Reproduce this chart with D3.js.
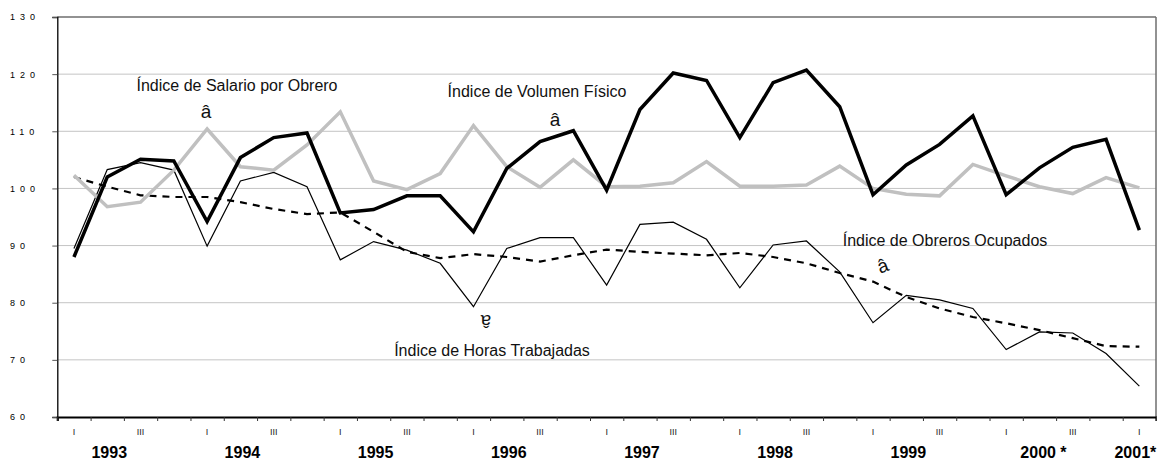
<!DOCTYPE html>
<html>
<head>
<meta charset="utf-8">
<script src="https://cdn.jsdelivr.net/npm/d3@7"></script>
<style>
  body { margin: 0; background: #fff; }
  svg text { font-family: "Liberation Sans", Arial, sans-serif; }
</style>
</head>
<body>
<div id="chart"></div>
<script>
// Quarters, 1993-I .. 2001-I
const categories = [
  "1993-I","1993-II","1993-III","1993-IV",
  "1994-I","1994-II","1994-III","1994-IV",
  "1995-I","1995-II","1995-III","1995-IV",
  "1996-I","1996-II","1996-III","1996-IV",
  "1997-I","1997-II","1997-III","1997-IV",
  "1998-I","1998-II","1998-III","1998-IV",
  "1999-I","1999-II","1999-III","1999-IV",
  "2000-I","2000-II","2000-III","2000-IV",
  "2001-I"
];
const quarterShown = ["I", "III"];
const yearLabels = ["1993","1994","1995","1996","1997","1998","1999","2000 *","2001*"];
const yTicks = [60, 70, 80, 90, 100, 110, 120, 130];

// Series values
const volumenFisico = [88.0,102.0,105.1,104.8, 94.2,105.4,108.9,109.7, 95.7,96.3,98.7,98.7,
  92.4,103.5,108.2,110.1, 99.7,113.8,120.2,118.9, 108.9,118.5,120.7,114.3,
  98.9,104.1,107.7,112.7, 98.9,103.6,107.2,108.6, 92.7];
const salarioObrero = [102.3,96.8,97.6,103.2, 110.4,103.8,103.2,107.6, 113.4,101.3,99.8,102.6,
  111.0,103.8,100.2,105.0, 100.3,100.4,101.0,104.7, 100.4,100.4,100.6,103.9,
  100.0,99.0,98.7,104.2, 102.2,100.3,99.1,101.9, 100.1];
const horasTrabajadas = [89.5,103.3,104.5,103.2, 89.9,101.3,102.8,100.3, 87.5,90.7,89.2,86.9,
  79.3,89.5,91.4,91.4, 83.1,93.7,94.1,91.1, 82.6,90.1,90.8,85.4,
  76.5,81.3,80.5,79.0, 71.8,74.9,74.7,71.1, 65.4];
const obrerosOcupados = [102.0,100.3,98.8,98.5, 98.5,97.6,96.4,95.5, 95.8,92.4,88.9,87.8,
  88.5,88.0,87.2,88.3, 89.3,88.9,88.6,88.3, 88.7,88.0,86.9,85.2,
  83.7,81.0,79.0,77.5, 76.4,75.2,73.8,72.4, 72.3];

// Dimensions
const W = 1157, H = 462;
const plotLeft = 57.3, plotRight = 1156, plotTop = 17, plotBottom = 417;

const svg = d3.select("#chart").append("svg")
    .attr("width", W)
    .attr("height", H);

const x = d3.scaleBand().domain(categories).range([plotLeft, plotRight]).padding(0);
const xb = d3.scaleLinear().domain([0, categories.length]).range([plotLeft, plotRight]);
const y = d3.scaleLinear().domain([60, 130]).range([plotBottom, plotTop]);
const cx = c => x(c) + x.bandwidth() / 2;

// Gridlines
svg.append("g")
    .selectAll("line")
    .data(yTicks.filter(d => d > 60 && d < 130))
    .enter().append("line")
    .attr("x1", plotLeft).attr("x2", plotRight)
    .attr("y1", d => y(d)).attr("y2", d => y(d))
    .attr("stroke", "#c4c4c4").attr("stroke-width", 1);

// Frame top + right
svg.append("line")
    .attr("x1", plotLeft).attr("x2", plotRight)
    .attr("y1", y(130)).attr("y2", y(130))
    .attr("stroke", "#6e6e6e").attr("stroke-width", 1.3);
svg.append("line")
    .attr("x1", plotRight).attr("x2", plotRight)
    .attr("y1", y(130)).attr("y2", y(60))
    .attr("stroke", "#6e6e6e").attr("stroke-width", 1.5);

// Y axis
const yAxis = svg.append("g")
    .attr("transform", "translate(" + plotLeft + ",0)")
    .call(d3.axisLeft(y).tickValues(yTicks).tickSize(5).tickFormat(d3.format("d")));
yAxis.select(".domain").attr("stroke", "#000").attr("stroke-width", 1.3);
yAxis.selectAll(".tick line").attr("stroke", "#555");
yAxis.selectAll(".tick text")
    .attr("x", -47.3)
    .attr("text-anchor", "start")
    .style("font-size", "9px")
    .style("letter-spacing", "5px")
    .attr("fill", "#000");

// X axis: tick marks at quarter boundaries
const xAxis = svg.append("g")
    .attr("transform", "translate(0," + plotBottom + ")")
    .call(d3.axisBottom(xb).tickValues(d3.range(categories.length + 1)).tickSize(4).tickFormat(""));
xAxis.select(".domain").attr("stroke", "#000").attr("stroke-width", 2.2);
xAxis.selectAll(".tick line").attr("stroke", "#333");

// Quarter labels (tiny rotation keeps them greyscale-smoothed)
svg.append("g")
    .selectAll("text")
    .data(categories.filter(c => quarterShown.includes(c.split("-")[1])))
    .enter().append("text")
    .attr("transform", d => "translate(" + cx(d) + ",435) rotate(0.01)")
    .attr("text-anchor", "middle")
    .attr("fill", "#222")
    .style("font-size", "9px")
    .text(d => d.split("-")[1]);

// Year labels, centred on the 2nd quarter of the year (or 1st if only one)
svg.append("g")
    .selectAll("text")
    .data(yearLabels)
    .enter().append("text")
    .attr("x", d => {
        const yr = d.slice(0, 4);
        const qs = categories.filter(c => c.startsWith(yr));
        if (qs.length === 1) return cx(qs[0]) - 4;
        return cx(qs[1]) + (d.length > 4 ? 4 : 2);
    })
    .attr("y", 458)
    .attr("text-anchor", "middle")
    .style("font-size", "16px")
    .style("font-weight", "bold")
    .text(d => d);

// Lines
const line = vals => d3.line()
    .x((d, i) => cx(categories[i]))
    .y(d => y(d))(vals);

svg.append("path")
    .attr("d", line(horasTrabajadas))
    .attr("fill", "none").attr("stroke", "#000").attr("stroke-width", 1.2)
    .attr("stroke-linejoin", "miter");

svg.append("path")
    .attr("d", line(obrerosOcupados))
    .attr("fill", "none").attr("stroke", "#000").attr("stroke-width", 2.2)
    .attr("stroke-dasharray", "7,6");

svg.append("path")
    .attr("d", line(salarioObrero))
    .attr("fill", "none").attr("stroke", "#c0c0c0").attr("stroke-width", 3.5)
    .attr("stroke-linejoin", "miter");

svg.append("path")
    .attr("d", line(volumenFisico))
    .attr("fill", "none").attr("stroke", "#000").attr("stroke-width", 3.5)
    .attr("stroke-linejoin", "miter");

// Annotations
const notes = svg.append("g").style("font-size", "16px").attr("fill", "#111");
notes.append("text").attr("x", 237).attr("y", 91).attr("text-anchor", "middle").text("Índice de Salario por Obrero");
notes.append("text").attr("x", 537).attr("y", 97).attr("text-anchor", "middle").text("Índice de Volumen Físico");
notes.append("text").attr("x", 945).attr("y", 246).attr("text-anchor", "middle").text("Índice de Obreros Ocupados");
notes.append("text").attr("x", 492).attr("y", 356).attr("text-anchor", "middle").text("Índice de Horas Trabajadas");

const arrows = svg.append("g").style("font-size", "19px").attr("fill", "#111");
arrows.append("text").attr("transform", "translate(206,118)").attr("text-anchor", "middle").text("â");
arrows.append("text").attr("transform", "translate(555,126)").attr("text-anchor", "middle").text("â");
arrows.append("text").attr("transform", "translate(885,272) rotate(-20)").attr("text-anchor", "middle").text("â");
arrows.append("text").attr("transform", "translate(486,315) rotate(180)").attr("text-anchor", "middle").text("â");
</script>
</body>
</html>
